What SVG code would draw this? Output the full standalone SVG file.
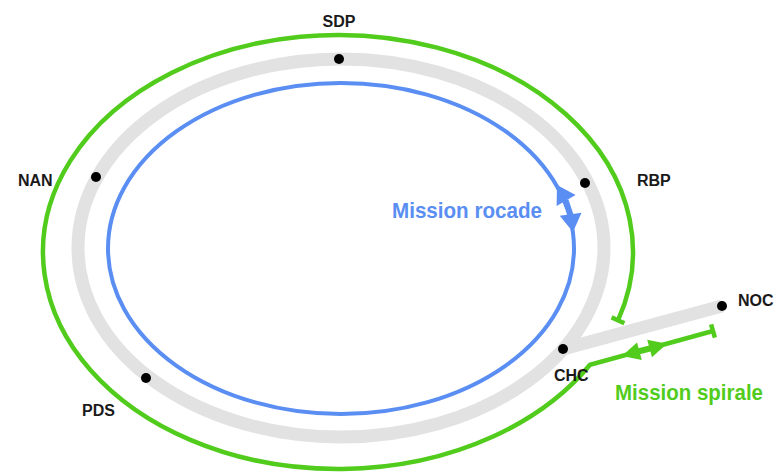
<svg xmlns="http://www.w3.org/2000/svg" width="776" height="473" viewBox="0 0 776 473">
<style>
.lbl{font-family:"Liberation Sans",Arial,sans-serif;font-weight:bold;font-size:16px;fill:#1a1a1a}
.big{font-family:"Liberation Sans Narrow","Liberation Sans",Arial,sans-serif;font-weight:bold;font-size:22px}
.track{fill:none;stroke:#e2e2e2;stroke-width:13}
.blue{fill:none;stroke:#5a8ef2;stroke-width:4}
.green{fill:none;stroke:#52cc1c;stroke-width:4.5}
.dot{fill:#000}
</style>
<rect width="776" height="473" fill="#fff"/>
<g id="tracks">
<ellipse class="track" cx="341" cy="248" rx="263" ry="189"/>
<line class="track" x1="563" y1="349" x2="722" y2="306"/>
</g>
<g id="connectors">
<g id="mission-rocade">
<ellipse class="blue" cx="341" cy="248.5" rx="233" ry="165.5"/>
<polygon fill="#5a8ef2" points="557,185 575.6,195.1 556.6,206.1"/>
<polygon fill="#5a8ef2" points="573,232 581.5,212.7 559.7,215.7"/>
<line x1="566" y1="200" x2="571" y2="215" stroke="#5a8ef2" stroke-width="5"/>
</g>
<g id="mission-spirale">
<path class="green" d="M618,320.3 A295,217 0 1 0 590,364.8 L713,331"/>
<line class="green" x1="611.6" y1="317.4" x2="624.4" y2="323.2"/>
<line class="green" x1="711.1" y1="324.3" x2="714.9" y2="337.7"/>
<line x1="636" y1="352" x2="652" y2="348" stroke="#52cc1c" stroke-width="6"/>
<polygon fill="#52cc1c" points="622,356.1 641.8,360 637,342.6"/>
<polygon fill="#52cc1c" points="667,343.7 652,357.2 647.2,339.8"/>
</g>
</g>
<g id="SDP"><circle class="dot" cx="339" cy="59" r="5"/><text class="lbl" x="339" y="27" text-anchor="middle">SDP</text></g>
<g id="NAN"><circle class="dot" cx="96" cy="177" r="5"/><text class="lbl" x="18" y="186">NAN</text></g>
<g id="RBP"><circle class="dot" cx="585" cy="183" r="5"/><text class="lbl" x="637" y="186">RBP</text></g>
<g id="NOC"><circle class="dot" cx="722" cy="306" r="5"/><text class="lbl" x="738" y="306">NOC</text></g>
<g id="CHC"><circle class="dot" cx="563" cy="349" r="5"/><text class="lbl" x="554" y="381">CHC</text></g>
<g id="PDS"><circle class="dot" cx="146" cy="378" r="5"/><text class="lbl" x="82" y="416">PDS</text></g>
<text class="big" x="392" y="218" fill="#5a8ef2" textLength="150" lengthAdjust="spacingAndGlyphs">Mission rocade</text>
<text class="big" x="615" y="400" fill="#52cc1c" textLength="148" lengthAdjust="spacingAndGlyphs">Mission spirale</text>
</svg>
